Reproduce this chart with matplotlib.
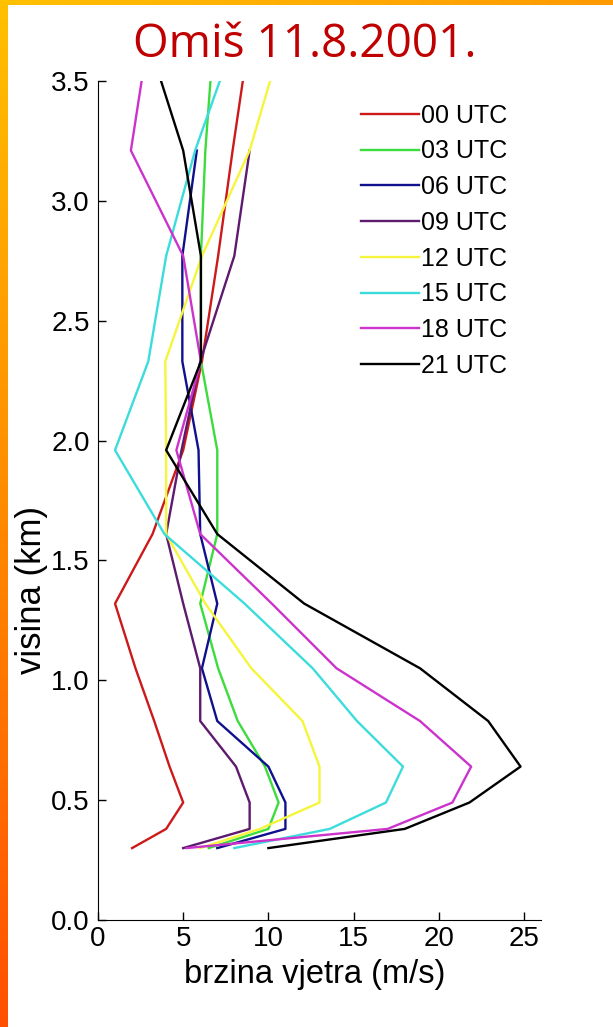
import numpy as np
import matplotlib
matplotlib.use('Agg')
import matplotlib.pyplot as plt

plt.rcParams['font.family'] = ['Liberation Sans', 'DejaVu Sans']

# model levels (km) and wind speed profiles (m/s)
heights = [0.3, 0.38, 0.49, 0.64, 0.83, 1.05, 1.32, 1.61, 1.96, 2.33, 2.77, 3.21, 3.5]
labels = ['00 UTC', '03 UTC', '06 UTC', '09 UTC', '12 UTC', '15 UTC', '18 UTC', '21 UTC']
colors = ['#cc1a1a', '#3ddc3d', '#10108c', '#5e1a6e', '#f5f53c', '#3cdcdc', '#cc33cc', '#000000']

utc00 = [2, 4, 5, 4.2, 3.3, 2.2, 1, 3.2, 5, 6.1, 7.05, 7.9, 8.5]
utc03 = [6.5, 10, 10.6, 9.8, 8.2, 7.05, 6, 7, 7, 6.04, 6.04, 6.3, 6.6]
utc06 = [7, 11, 11, 10, 7, 6.1, 7, 6, 5.9, 4.95, 4.95, 5.8]
utc09 = [5, 8.9, 8.9, 8.1, 6, 6, 5, 4, 4.9, 6, 8, 8.9]
utc12 = [6, 9.5, 13, 13, 12, 9, 6.3, 4, 4, 3.95, 6.1, 8.9, 10.1]
utc15 = [8, 13.6, 16.9, 17.9, 15.2, 12.6, 8.6, 3.9, 1.0, 2.95, 4.0, 5.7, 7.15]
utc18 = [5.2, 17, 20.8, 21.9, 18.9, 14, 10.2, 6, 4.6, 6.04, 5.0, 1.93, 2.56]
utc21 = [10, 18, 21.8, 24.8, 22.9, 18.9, 12.1, 7, 4, 6.04, 6.04, 5, 3.7]

profiles = [utc00, utc03, utc06, utc09, utc12, utc15, utc18, utc21]

fig = plt.figure(figsize=(6.13, 10.27), dpi=100)
fig.patch.set_facecolor('white')

# orange frame strips (slide decoration)
top = fig.add_axes([0, 1 - 5 / 1027, 1, 5 / 1027])
top.imshow(np.linspace(0, 1, 256)[None, :], aspect='auto',
           cmap=matplotlib.colors.LinearSegmentedColormap.from_list('t', ['#ffc000', '#ff9a00']))
top.axis('off')
left = fig.add_axes([0, 0, 8 / 613, 1])
left.imshow(np.linspace(0, 1, 256)[:, None], aspect='auto',
            cmap=matplotlib.colors.LinearSegmentedColormap.from_list('l', ['#ffc000', '#ff8a00', '#ff5000']))
left.axis('off')

ax = fig.add_axes([98 / 613, 1 - 920 / 1027, 443 / 613, 839 / 1027])
for prof, lab, col in zip(profiles, labels, colors):
    ax.plot(prof, heights[:len(prof)], color=col, lw=1.7, label=lab)

ax.set_xlim(0, 26)
ax.set_ylim(0, 3.5)
ax.set_xticks([0, 5, 10, 15, 20, 25])
ax.set_yticks(np.arange(0, 3.51, 0.5))
ax.set_yticklabels(['%.1f' % v for v in np.arange(0, 3.51, 0.5)])
ax.tick_params(direction='in', length=6, width=1, labelsize=20)
ax.tick_params(axis='x', pad=4)
ax.tick_params(axis='y', pad=6)
ax.spines['top'].set_visible(False)
ax.spines['right'].set_visible(False)
ax.set_xlabel('brzina vjetra (m/s)', fontsize=23.5, labelpad=0)
ax.set_ylabel('visina (km)', fontsize=25)
ax.yaxis.set_label_coords(-0.112, 0.393)
ax.xaxis.set_label_coords(0.49, -0.047)

ax.legend(loc='upper left', bbox_to_anchor=(0.572, 0.985), frameon=False,
          fontsize=18, handlelength=2.3, handletextpad=0.1, labelspacing=0.47,
          borderaxespad=0)

fig.text(0.497, 1 - 45 / 1027, 'Omiš 11.8.2001.', color='#c00000', fontsize=33,
         family='Open Sans', ha='center', va='center')

fig.savefig('out.png', dpi=100)
